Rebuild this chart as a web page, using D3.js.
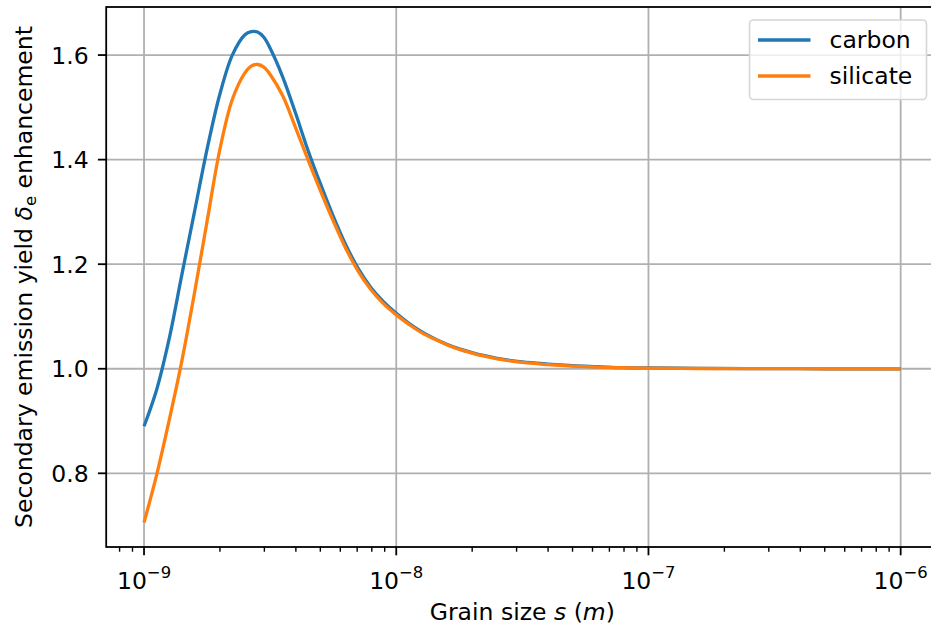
<!DOCTYPE html>
<html>
<head>
<meta charset="utf-8">
<script src="https://cdn.jsdelivr.net/npm/d3@7"></script>
<style>
  html, body { margin: 0; padding: 0; background: #fff; }
  svg { display: block; font-family: "DejaVu Sans", sans-serif; }
</style>
</head>
<body>
<svg id="chart" width="931" height="628"></svg>
<script>
// log10 of grain size s (m)
const logSize = [-9.00, -8.95, -8.90, -8.85, -8.80, -8.75, -8.70, -8.65, -8.60, -8.575,
                 -8.55, -8.525, -8.50, -8.45, -8.40, -8.35, -8.30, -8.25, -8.20, -8.15,
                 -8.10, -8.05, -8.00, -7.95, -7.90, -7.85, -7.80, -7.75, -7.70, -7.65,
                 -7.60, -7.50, -7.40, -7.30, -7.20, -7.10, -7.00, -6.80, -6.60, -6.40,
                 -6.20, -6.00];
const carbon = [0.890, 0.960, 1.058, 1.180, 1.300, 1.420, 1.524, 1.600, 1.639, 1.645,
                1.644, 1.634, 1.613, 1.558, 1.490, 1.418, 1.353, 1.292, 1.237, 1.191,
                1.155, 1.128, 1.106, 1.087, 1.071, 1.058, 1.047, 1.038, 1.031, 1.025,
                1.020, 1.013, 1.009, 1.006, 1.004, 1.002, 1.0015, 1.0007, 1.0003, 1.0001,
                1.0000, 1.0000];
const silicate = [0.706, 0.797, 0.902, 1.015, 1.145, 1.282, 1.418, 1.515, 1.566, 1.579,
                  1.582, 1.577, 1.563, 1.522, 1.462, 1.400, 1.340, 1.283, 1.230, 1.186,
                  1.151, 1.124, 1.103, 1.085, 1.069, 1.057, 1.046, 1.037, 1.030, 1.024,
                  1.019, 1.012, 1.008, 1.005, 1.003, 1.002, 1.001, 1.0005, 1.0002, 1.0001,
                  1.0000, 1.0000];
const seriesNames = ["carbon", "silicate"];
const seriesColors = ["#1f77b4", "#ff7f0e"];
const xTickExponents = ["−9", "−8", "−7", "−6"];
const yTicks = [0.8, 1.0, 1.2, 1.4, 1.6];

const svg = d3.select("#chart");
const plot = { left: 106.2, right: 938.5, top: 7, bottom: 547 };
const FS = 23.5;

const sizes = logSize.map(e => Math.pow(10, e));
const allVals = carbon.concat(silicate);
const yMin = d3.min(allVals), yMax = d3.max(allVals);
const yPad = (yMax - yMin) * 0.05;
const lxMin = d3.min(logSize), lxMax = d3.max(logSize);
const xPad = (lxMax - lxMin) * 0.05;

const x = d3.scaleLog()
  .domain([Math.pow(10, lxMin - xPad), Math.pow(10, lxMax + xPad)])
  .range([plot.left, plot.right]);
const y = d3.scaleLinear()
  .domain([yMin - yPad, yMax + yPad])
  .range([plot.bottom, plot.top]);

const majorX = xTickExponents.map((t, i) => Math.pow(10, lxMin + i));
const minorX = [];
for (let d = Math.floor(lxMin - xPad); d <= Math.ceil(lxMax + xPad); d++) {
  for (let m = 2; m <= 9; m++) {
    const v = m * Math.pow(10, d);
    if (v >= x.domain()[0] && v <= x.domain()[1]) minorX.push(v);
  }
}

// grid
const grid = svg.append("g");
grid.selectAll("line.gx").data(majorX).enter().append("line")
  .attr("x1", d => x(d)).attr("x2", d => x(d))
  .attr("y1", plot.top).attr("y2", plot.bottom)
  .attr("stroke", "#b0b0b0").attr("stroke-width", 1.8);
grid.selectAll("line.gy").data(yTicks).enter().append("line")
  .attr("y1", d => y(d)).attr("y2", d => y(d))
  .attr("x1", plot.left).attr("x2", plot.right)
  .attr("stroke", "#b0b0b0").attr("stroke-width", 1.8);

// lines
const line = d3.line()
  .x((d) => x(d[0]))
  .y((d) => y(d[1]))
  .curve(d3.curveCatmullRom.alpha(0.5));
[carbon, silicate].forEach((vals, i) => {
  svg.append("path")
    .datum(sizes.map((s, j) => [s, vals[j]]))
    .attr("fill", "none")
    .attr("stroke", seriesColors[i])
    .attr("stroke-width", 3.3)
    .attr("stroke-linejoin", "round")
    .attr("stroke-linecap", "butt")
    .attr("d", line);
});

// spines
svg.append("rect")
  .attr("x", plot.left).attr("y", plot.top)
  .attr("width", plot.right - plot.left).attr("height", plot.bottom - plot.top)
  .attr("fill", "none").attr("stroke", "#000").attr("stroke-width", 1.8);

// x ticks
const xt = svg.append("g");
xt.selectAll("line.maj").data(majorX).enter().append("line")
  .attr("x1", d => x(d)).attr("x2", d => x(d))
  .attr("y1", plot.bottom).attr("y2", plot.bottom + 8.3)
  .attr("stroke", "#000").attr("stroke-width", 1.8);
xt.selectAll("line.min").data(minorX).enter().append("line")
  .attr("x1", d => x(d)).attr("x2", d => x(d))
  .attr("y1", plot.bottom).attr("y2", plot.bottom + 4.7)
  .attr("stroke", "#000").attr("stroke-width", 1.4);
const xl = xt.selectAll("text").data(majorX).enter().append("text")
  .attr("x", d => x(d)).attr("y", 589)
  .attr("text-anchor", "middle")
  .attr("font-size", FS);
xl.append("tspan").text("10");
xl.append("tspan").attr("dy", -0.45 * FS).attr("font-size", FS * 0.7)
  .text((d, i) => xTickExponents[i]);

// y ticks
const yt = svg.append("g");
yt.selectAll("line").data(yTicks).enter().append("line")
  .attr("x1", plot.left - 8.3).attr("x2", plot.left)
  .attr("y1", d => y(d)).attr("y2", d => y(d))
  .attr("stroke", "#000").attr("stroke-width", 1.8);
yt.selectAll("text").data(yTicks).enter().append("text")
  .attr("x", plot.left - 17.5).attr("y", d => y(d))
  .attr("dy", "0.36em")
  .attr("text-anchor", "end")
  .attr("font-size", FS)
  .text(d => d.toFixed(1));

// axis labels
const xlab = svg.append("text")
  .attr("x", (plot.left + 938.5) / 2 - 0).attr("y", 620)
  .attr("text-anchor", "middle").attr("font-size", FS);
xlab.append("tspan").text("Grain size ");
xlab.append("tspan").attr("font-style", "italic").text("s");
xlab.append("tspan").text(" (");
xlab.append("tspan").attr("font-style", "italic").text("m");
xlab.append("tspan").text(")");

const ylab = svg.append("text")
  .attr("transform", `translate(31.5, ${(plot.top + plot.bottom) / 2}) rotate(-90)`)
  .attr("text-anchor", "middle").attr("font-size", FS);
ylab.append("tspan").text("Secondary emission yield ");
ylab.append("tspan").attr("font-style", "italic").text("δ");
ylab.append("tspan").attr("font-size", FS * 0.7).attr("dy", 0.2 * FS).text("e");
ylab.append("tspan").attr("dy", -0.2 * FS).text(" enhancement");

// legend
const lg = svg.append("g");
lg.append("rect")
  .attr("x", 749.5).attr("y", 20).attr("width", 177).attr("height", 79.5)
  .attr("rx", 4).attr("ry", 4)
  .attr("fill", "rgba(255,255,255,0.8)")
  .attr("stroke", "#d6d6d6").attr("stroke-width", 1.6);
seriesNames.forEach((name, i) => {
  const cy = 40 + i * 36;
  lg.append("line")
    .attr("x1", 758).attr("x2", 810.5)
    .attr("y1", cy).attr("y2", cy)
    .attr("stroke", seriesColors[i]).attr("stroke-width", 3.3);
  lg.append("text")
    .attr("x", 829.5).attr("y", cy).attr("dy", "0.36em")
    .attr("font-size", FS)
    .text(name);
});
</script>
</body>
</html>
